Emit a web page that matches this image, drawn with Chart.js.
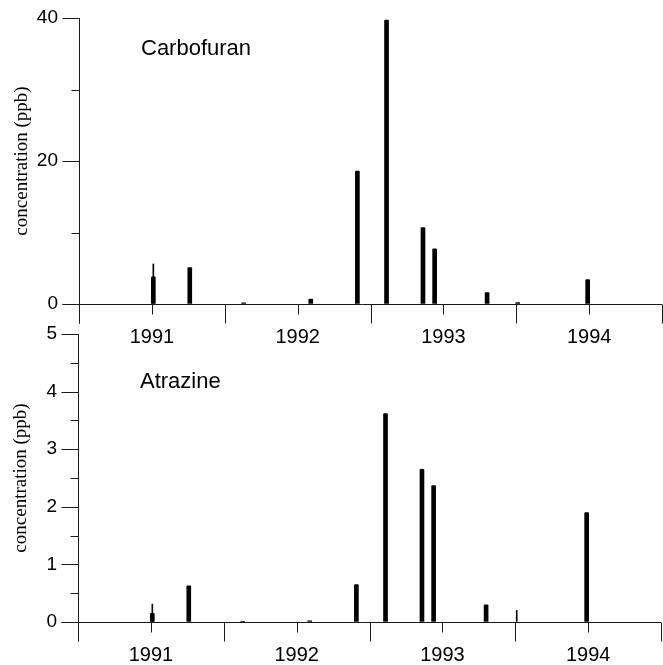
<!DOCTYPE html>
<html>
<head>
<meta charset="utf-8">
<script src="https://cdn.jsdelivr.net/npm/chart.js@4.4.0/dist/chart.umd.min.js"></script>
<style>
  html, body { margin: 0; padding: 0; background: #fff; }
  #wrap { position: relative; width: 663px; height: 665px; overflow: hidden; }
  .panel { position: absolute; left: 0; width: 663px; height: 350px; }
  #topPanel { top: 0; }
  #bottomPanel { top: 316px; left: -1px; }
</style>
</head>
<body>
<div id="wrap">
  <div class="panel" id="topPanel"><canvas id="carbofuranChart"></canvas></div>
  <div class="panel" id="bottomPanel"><canvas id="atrazineChart"></canvas></div>
</div>
<script>
/* sampling dates are decimal years, concentrations in ppb */
const yearLabels = [1991, 1992, 1993, 1994];
const halfYearTicks = [1990.5, 1991.5, 1992.5, 1993.5, 1994.5];

const carbofuranDates = [1991.01, 1991.26, 1991.63, 1992.09, 1992.41, 1992.61, 1992.86, 1992.94, 1993.30, 1993.51, 1993.99];
const carbofuranValues = [3.8, 5.1, 0.15, 0.7, 18.6, 39.7, 10.7, 7.7, 1.6, 0.2, 3.4];
const carbofuranThinDates = [1991.01];
const carbofuranThinValues = [5.6];
const carbofuranMajorTicks = [0, 20, 40];
const carbofuranMinorTicks = [10, 30];

const atrazineDates = [1991.01, 1991.26, 1991.63, 1992.09, 1992.41, 1992.61, 1992.86, 1992.94, 1993.30, 1993.99];
const atrazineValues = [0.15, 0.63, 0.01, 0.02, 0.65, 3.62, 2.65, 2.37, 0.30, 1.90];
const atrazineThinDates = [1991.01, 1993.51];
const atrazineThinValues = [0.31, 0.2];
const atrazineMajorTicks = [0, 1, 2, 3, 4, 5];
const atrazineMinorTicks = [0.5, 1.5, 2.5, 3.5, 4.5];

const SANS = "'Liberation Sans', Arial, sans-serif";
const SERIF = "'Liberation Serif', 'Times New Roman', serif";

// axes drawn the old-fashioned way: long/short ticks, zero line, panel name
const axisPlugin = {
  id: 'oldAxes',
  beforeDatasetsDraw(chart, args, opts) {
    const { ctx, chartArea: a, scales: { x, y } } = chart;
    const px = (v) => Math.round(v) + 0.5;
    const y0 = px(y.getPixelForValue(0));
    const xl = px(a.left);
    ctx.save();
    ctx.strokeStyle = '#1a1a1a';
    ctx.lineWidth = 1;
    ctx.beginPath();
    ctx.moveTo(xl, Math.round(y.getPixelForValue(y.max)));
    ctx.lineTo(xl, y0 + 19);
    ctx.moveTo(xl - 17, y0);
    ctx.lineTo(Math.round(a.right), y0);
    opts.major.forEach(v => {
      const yy = px(y.getPixelForValue(v));
      ctx.moveTo(xl - 17, yy); ctx.lineTo(xl, yy);
    });
    opts.minor.forEach(v => {
      const yy = px(y.getPixelForValue(v));
      ctx.moveTo(xl - 8, yy); ctx.lineTo(xl, yy);
    });
    halfYearTicks.forEach(v => {
      const xx = px(x.getPixelForValue(v));
      ctx.moveTo(xx, y0); ctx.lineTo(xx, y0 + 19);
    });
    yearLabels.forEach(v => {
      const xx = px(x.getPixelForValue(v));
      ctx.moveTo(xx, y0); ctx.lineTo(xx, y0 + 10);
    });
    ctx.stroke();

    ctx.fillStyle = '#000';
    ctx.font = '22px ' + SANS;
    ctx.textBaseline = 'middle';
    ctx.fillText(opts.name, a.left + opts.nameDx, a.top + opts.nameDy);
    ctx.restore();
  }
};

function makePanel(id, name, dates, values, thinDates, thinValues, yMax, major, minor, xHeight, nameDy) {
  const ctx = document.getElementById(id).getContext('2d');
  new Chart(ctx, {
    type: 'bar',
    data: {
      datasets: [
        {
          label: name,
          data: dates.map((d, i) => ({ x: d, y: values[i] })),
          backgroundColor: '#000',
          barThickness: 4,
          borderRadius: 1,
          order: 1
        },
        {
          label: name + ' (trace)',
          data: thinDates.map((d, i) => ({ x: d, y: thinValues[i] })),
          backgroundColor: '#000',
          barThickness: 1,
          order: 2
        }
      ]
    },
    options: {
      responsive: true,
      maintainAspectRatio: false,
      animation: false,
      grouped: false,
      layout: { padding: { top: 18, right: 1, left: 0, bottom: 0 } },
      plugins: {
        legend: { display: false },
        tooltip: { enabled: false },
        oldAxes: { major, minor, name, nameDx: 62, nameDy }
      },
      scales: {
        x: {
          type: 'linear',
          min: 1990.5,
          max: 1994.5,
          offset: false,
          afterBuildTicks: (s) => { s.ticks = yearLabels.map(v => ({ value: v })); },
          afterFit: (s) => { s.height = xHeight; },
          border: { display: false },
          grid: { offset: false, drawOnChartArea: false, tickLength: 17, tickColor: 'rgba(0,0,0,0)' },
          ticks: {
            autoSkip: false,
            maxRotation: 0,
            padding: 4,
            color: '#000',
            font: { family: SANS, size: 20 },
            callback: (v) => String(v)
          }
        },
        y: {
          type: 'linear',
          min: 0,
          max: yMax,
          afterBuildTicks: (s) => {
            s.ticks = major.concat(minor).sort((a, b) => a - b).map(v => ({ value: v }));
          },
          afterFit: (s) => { s.width = 79; },
          border: { display: false },
          grid: { drawOnChartArea: false, tickLength: 17, tickColor: 'rgba(0,0,0,0)' },
          ticks: {
            padding: 4,
            color: '#000',
            font: { family: SANS, size: 19 },
            callback: (v) => major.includes(v) ? String(v) : ''
          },
          title: {
            display: true,
            text: 'concentration (ppb)',
            color: '#000',
            font: { family: SERIF, size: 19 },
            padding: { top: 11, bottom: 0 }
          }
        }
      }
    },
    plugins: [axisPlugin]
  });
}

makePanel('carbofuranChart', 'Carbofuran', carbofuranDates, carbofuranValues,
  carbofuranThinDates, carbofuranThinValues, 40, carbofuranMajorTicks, carbofuranMinorTicks, 46, 31);
makePanel('atrazineChart', 'Atrazine', atrazineDates, atrazineValues,
  atrazineThinDates, atrazineThinValues, 5, atrazineMajorTicks, atrazineMinorTicks, 44, 48);
</script>
</body>
</html>
